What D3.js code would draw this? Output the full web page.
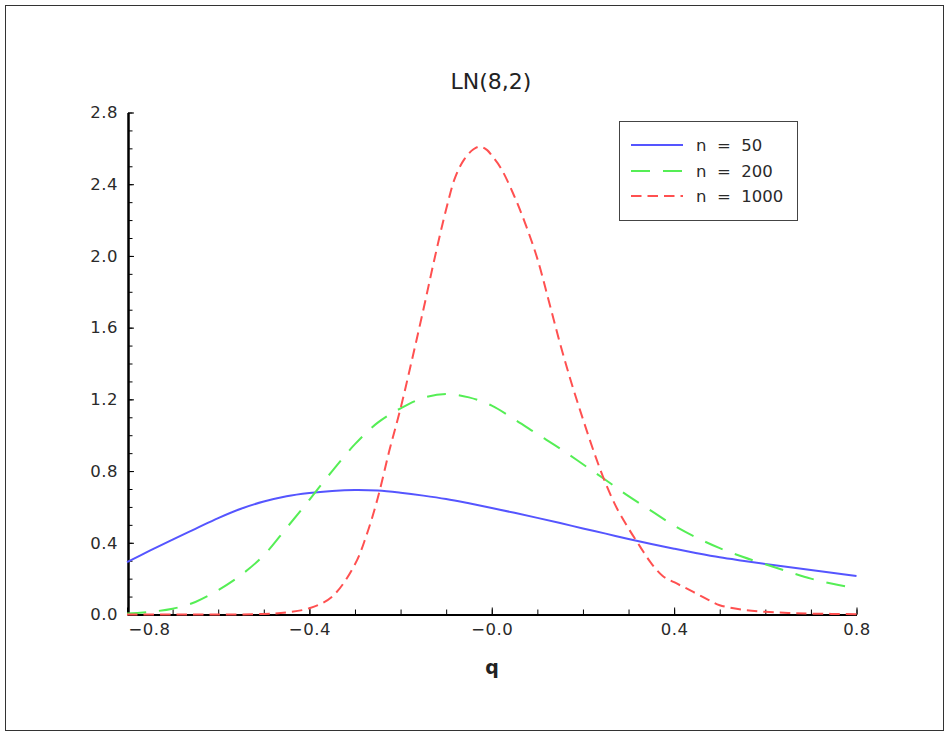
<!DOCTYPE html>
<html>
<head>
<meta charset="utf-8">
<script src="https://cdn.jsdelivr.net/npm/d3@7"></script>
<style>
  body { margin: 0; background: #fff; }
  svg { display: block; }
  text { font-family: "DejaVu Sans", "Verdana", sans-serif; }
</style>
</head>
<body>
<svg id="chart" width="949" height="736"></svg>
<script>
// ---- chart content ----
const chartTitle = "LN(8,2)";
const xLabel = "q";
const seriesNames = ["n  =  50", "n  =  200", "n  =  1000"];

const xMajorTicks = [-0.8, -0.4, 0, 0.4, 0.8];
const xTickLabels = ["\u22120.8", "\u22120.4", "\u22120.0", "0.4", "0.8"];
const yMajorTicks = [0, 0.4, 0.8, 1.2, 1.6, 2.0, 2.4, 2.8];
const yTickLabels = ["0.0", "0.4", "0.8", "1.2", "1.6", "2.0", "2.4", "2.8"];

// sampling grid shared by n = 50 and n = 200
const qGrid = [-0.8, -0.75, -0.7, -0.65, -0.6, -0.55, -0.5, -0.45, -0.4, -0.35,
               -0.3, -0.25, -0.2, -0.15, -0.1, -0.05, 0.0, 0.05, 0.1, 0.15,
               0.2, 0.25, 0.3, 0.35, 0.4, 0.45, 0.5, 0.55, 0.6, 0.65,
               0.7, 0.75, 0.8];

const density50 = [0.292, 0.356, 0.418, 0.478, 0.538, 0.590, 0.630, 0.660, 0.678, 0.689,
                   0.694, 0.691, 0.679, 0.663, 0.644, 0.620, 0.594, 0.567, 0.539, 0.510,
                   0.480, 0.451, 0.421, 0.393, 0.367, 0.342, 0.319, 0.300, 0.282, 0.265,
                   0.248, 0.231, 0.215];

const density200 = [0.006, 0.015, 0.032, 0.070, 0.136, 0.220, 0.330, 0.483, 0.640, 0.800,
                    0.950, 1.070, 1.150, 1.208, 1.230, 1.211, 1.165, 1.088, 1.006, 0.925,
                    0.838, 0.750, 0.660, 0.578, 0.496, 0.428, 0.370, 0.322, 0.280, 0.239,
                    0.200, 0.170, 0.145];

// finer grid for the sharper n = 1000 curve
const qFine = [-0.8, -0.7, -0.6, -0.5, -0.45, -0.4, -0.35, -0.3, -0.275, -0.25,
               -0.225, -0.2, -0.175, -0.15, -0.125, -0.1, -0.08, -0.06, -0.04, -0.025,
               -0.01, 0.0, 0.02, 0.05, 0.075, 0.1, 0.125, 0.15, 0.175, 0.2,
               0.225, 0.25, 0.275, 0.3, 0.325, 0.35, 0.375, 0.4, 0.425, 0.45,
               0.475, 0.5, 0.55, 0.6, 0.65, 0.7, 0.8];

const density1000 = [0.0, 0.0, 0.0, 0.003, 0.012, 0.035, 0.10, 0.28, 0.44, 0.65,
                     0.91, 1.15, 1.42, 1.70, 1.99, 2.26, 2.44, 2.54, 2.595, 2.61,
                     2.59, 2.56, 2.49, 2.33, 2.17, 1.985, 1.75, 1.51, 1.29, 1.09,
                     0.90, 0.73, 0.59, 0.48, 0.38, 0.285, 0.215, 0.18, 0.148, 0.115,
                     0.082, 0.052, 0.027, 0.015, 0.009, 0.005, 0.002];

const seriesColors = ["#5555ff", "#55ee55", "#ff5050"];
const seriesDashes = [null, "19,13", "10.5,6"];

// ---- drawing ----
const svg = d3.select("#chart");

// outer frame
svg.append("rect")
  .attr("x", 5.5).attr("y", 5.5)
  .attr("width", 938).attr("height", 725)
  .attr("fill", "none").attr("stroke", "#333").attr("stroke-width", 1);

const x = d3.scaleLinear().domain([-0.8, 0.8]).range([127, 856.5]);
const y = d3.scaleLinear().domain([0, 2.8]).range([614.5, 112.5]);

const tickFont = 16.5;
const tickColor = "#2a2a2a";

// y axis: minor ticks
svg.append("g")
  .attr("transform", `translate(${x(-0.8) + 1},0)`)
  .call(d3.axisLeft(y).tickValues(d3.range(0, 29).map(i => i / 10))
          .tickFormat("").tickSizeInner(-4.5).tickSizeOuter(0))
  .call(g => g.select(".domain").remove())
  .call(g => g.selectAll(".tick line").attr("stroke", "#000").attr("stroke-width", 1));

// y axis: major ticks and labels
svg.append("g")
  .attr("transform", `translate(${x(-0.8) + 1},0)`)
  .call(d3.axisLeft(y).tickValues(yMajorTicks)
          .tickFormat((d, i) => yTickLabels[i])
          .tickSizeInner(-6).tickSizeOuter(0).tickPadding(10))
  .call(g => g.select(".domain").attr("stroke", "#000").attr("stroke-width", 2.5))
  .call(g => g.selectAll(".tick line").attr("stroke", "#000").attr("stroke-width", 1))
  .call(g => g.selectAll(".tick text")
               .attr("font-size", tickFont).attr("fill", tickColor)
               .attr("font-family", "DejaVu Sans")
               .style("letter-spacing", "0.5px"));

// x axis: minor ticks
svg.append("g")
  .attr("transform", `translate(0,${y(0)})`)
  .call(d3.axisBottom(x).tickValues(d3.range(-8, 9).map(i => i / 10))
          .tickFormat("").tickSizeInner(-5).tickSizeOuter(0))
  .call(g => g.select(".domain").remove())
  .call(g => g.selectAll(".tick line").attr("stroke", "#000").attr("stroke-width", 1));

// x axis: major ticks and labels
const xAxisG = svg.append("g")
  .attr("transform", `translate(0,${y(0)})`)
  .call(d3.axisBottom(x).tickValues(xMajorTicks)
          .tickFormat((d, i) => xTickLabels[i])
          .tickSizeInner(-7).tickSizeOuter(0).tickPadding(9))
  .call(g => g.select(".domain").attr("stroke", "#000").attr("stroke-width", 1.8))
  .call(g => g.selectAll(".tick line").attr("stroke", "#000").attr("stroke-width", 1))
  .call(g => g.selectAll(".tick text")
               .attr("font-size", tickFont).attr("fill", tickColor)
               .attr("font-family", "DejaVu Sans")
               .style("letter-spacing", "0.5px"));
// first label sits to the right of the origin
xAxisG.selectAll(".tick text").filter((d, i) => i === 0)
  .attr("text-anchor", "start").attr("x", 1);

// curves
const line = d3.line().curve(d3.curveCatmullRom.alpha(0.5));
const curveData = [
  qGrid.map((q, i) => [x(q), y(density50[i])]),
  qGrid.map((q, i) => [x(q), y(density200[i])]),
  qFine.map((q, i) => [x(q), y(density1000[i])])
];
curveData.forEach((pts, k) => {
  svg.append("path")
    .attr("d", line(pts))
    .attr("fill", "none")
    .attr("stroke", seriesColors[k])
    .attr("stroke-width", 2)
    .attr("stroke-dasharray", seriesDashes[k]);
});

// title and axis label
svg.append("text")
  .attr("x", 491).attr("y", 89)
  .attr("text-anchor", "middle")
  .attr("font-family", "Liberation Sans, Arial, sans-serif")
  .attr("font-size", 22).attr("fill", "#222")
  .text(chartTitle);

svg.append("text")
  .attr("x", 492).attr("y", 674)
  .attr("text-anchor", "middle")
  .attr("font-size", 19).attr("font-weight", "bold").attr("fill", "#222")
  .text(xLabel);

// legend
const legend = svg.append("g");
legend.append("rect")
  .attr("x", 619.5).attr("y", 121.5)
  .attr("width", 178).attr("height", 99)
  .attr("fill", "#fff").attr("stroke", "#444").attr("stroke-width", 1);
const rowY = [145, 171, 196];
seriesNames.forEach((name, k) => {
  legend.append("line")
    .attr("x1", 631).attr("x2", 683)
    .attr("y1", rowY[k]).attr("y2", rowY[k])
    .attr("stroke", seriesColors[k]).attr("stroke-width", 2)
    .attr("stroke-dasharray", seriesDashes[k]);
  legend.append("text")
    .attr("x", 696).attr("y", rowY[k]).attr("dy", "0.35em")
    .attr("font-size", tickFont).attr("fill", tickColor)
    .style("white-space", "pre")
    .text(name);
});
</script>
</body>
</html>
